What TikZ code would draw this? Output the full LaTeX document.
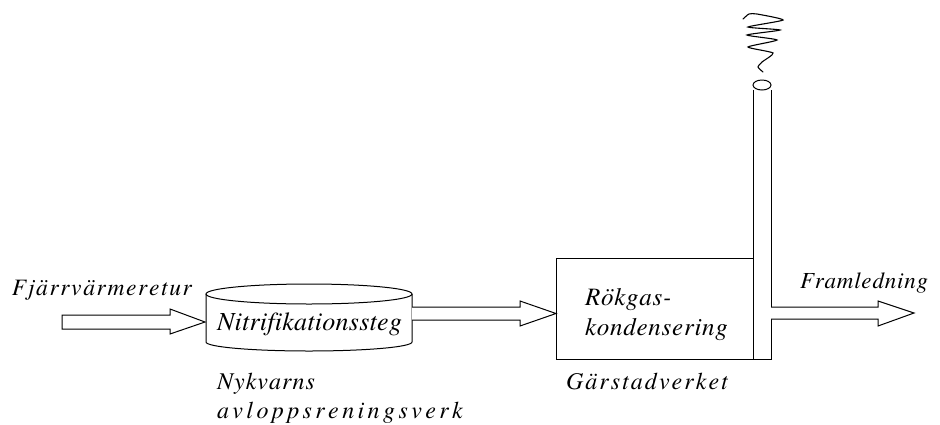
\documentclass[tikz,border=0pt]{standalone}
\usepackage{fontspec}
\setmainfont{TeX Gyre Termes}
\newcommand\spacedtext[2]{\def\lskern{#1}\lsloop#2\relax}
\def\lsloop#1{\ifx#1\relax\else#1\kern\lskern\expandafter\lsloop\fi}
\begin{document}
\begin{tikzpicture}[x=1pt,y=-1pt,line width=1pt,line join=miter,
  lbl/.style={anchor=base west,inner sep=0pt,outer sep=0pt},
  blockarrow/.style={draw,fill=white}]
\useasboundingbox (0,0) rectangle (940,424);
\newcommand{\tx}[3]{\fontsize{#1}{#1}\selectfont\itshape\spacedtext{#2pt}{#3}}
\node[lbl] (fj) at (12,295) {\tx{23.5}{1.66}{Fjärrvärmeretur}};
% cylinder
\draw (309,294) ellipse (103 and 10);
\draw (206,294) -- (206,342) arc (180:0:103 and 9) -- (412,294);
\node[lbl] (nit) at (217,330) {\tx{26}{0.26}{Nitrifikationssteg}};
% input arrow
\draw[blockarrow] (62,315) -- (170,315) -- (170,309) -- (205,322) -- (170,334) -- (170,329) -- (62,329) -- cycle;
% middle arrow
\draw[blockarrow] (412,307) -- (520,307) -- (520,301) -- (556,313.5) -- (520,326) -- (520,320) -- (412,320);
% box and chimney
\node[draw,minimum width=197pt,minimum height=101pt,inner sep=0pt,anchor=north west] (box) at (556,258) {};
\draw (753,90) -- (753,359) -- (771,359) -- (771,90);
\draw (762,85) ellipse (9 and 5);
\node[lbl] (rk1) at (585,305) {\tx{25}{0.75}{Rökgas-}};
\node[lbl] (rk2) at (585,335) {\tx{25}{0.75}{kondensering}};
% smoke
\draw[line width=1.1pt,line cap=round] plot[smooth,tension=0.35] coordinates {(743,19) (749,14) (757,14) (783,20) (748,27) (780,30) (747,35) (777,40) (748,47) (773,53) (762,62) (758,67) (763,72)};
% output arrow
\draw[blockarrow] (771,307) -- (878,307) -- (878,301) -- (914,313) -- (878,326) -- (878,319) -- (771,319);
\node[lbl] (fr) at (800,288) {\tx{23}{0.8}{Framledning}};
\node[lbl] (ny1) at (217,389) {\tx{24}{1.05}{Nykvarns}};
\node[lbl] (ny2) at (217,418) {\tx{24}{3.4}{avloppsreningsverk}};
\node[lbl] (ga) at (566,389) {\tx{24}{2.05}{Gärstadverket}};
\end{tikzpicture}
\end{document}
